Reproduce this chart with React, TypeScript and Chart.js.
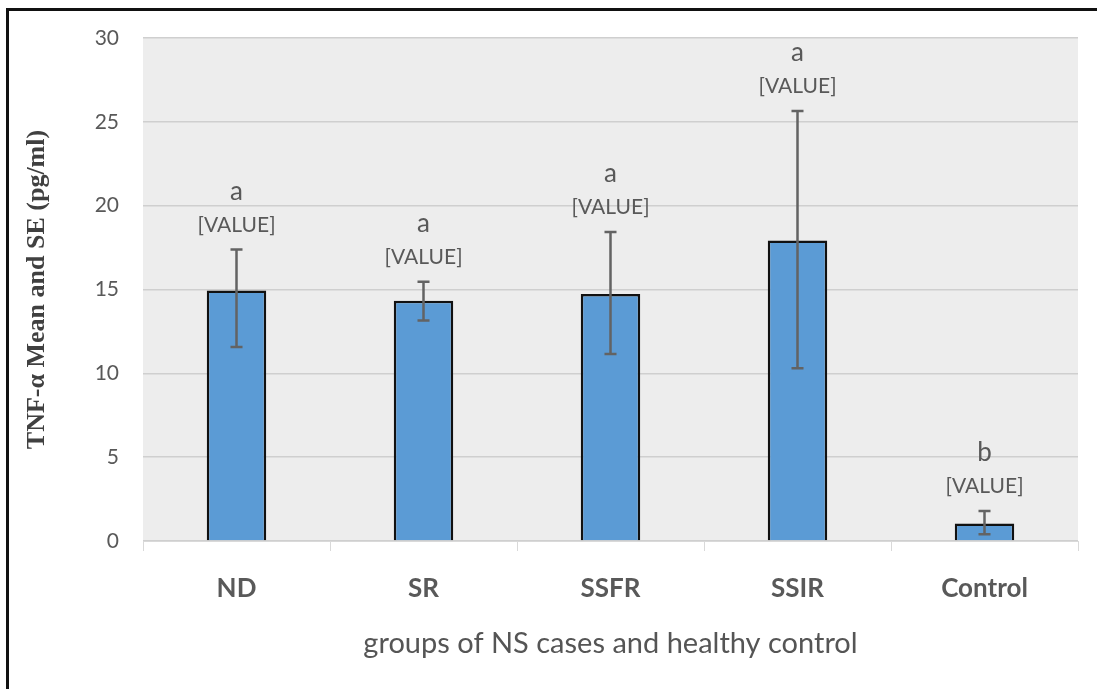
import React, { useEffect, useRef } from "react";
import { Chart, registerables } from "chart.js";

Chart.register(...registerables);

const categories = ["ND", "SR", "SSFR", "SSIR", "Control"];
const means = [14.94, 14.33, 14.73, 17.92, 1.05];
const errHigh = [17.38, 15.46, 18.43, 25.64, 1.79];
const errLow = [11.57, 13.15, 11.15, 10.3, 0.4];
const letters = ["a", "a", "a", "a", "b"];
const valueLabel = "[VALUE]";
const yTicks = [0, 5, 10, 15, 20, 25, 30];

const W = 1097;
const H = 689;
const SANS = "Lato, 'Open Sans', sans-serif";

const framePlugin = {
  id: "framePlugin",
  beforeDraw(chart: any) {
    const { ctx, chartArea } = chart;
    ctx.save();
    ctx.fillStyle = "#ffffff";
    ctx.fillRect(0, 0, chart.width, chart.height);
    ctx.fillStyle = "#ededed";
    ctx.fillRect(chartArea.left, chartArea.top, chartArea.right - chartArea.left, chartArea.bottom - chartArea.top);
    ctx.restore();
  },
  afterDraw(chart: any) {
    const { ctx } = chart;
    ctx.save();
    ctx.fillStyle = "#111111";
    ctx.fillRect(6, 8, chart.width - 6, 3);
    ctx.fillRect(6, 8, 3, chart.height - 8);
    ctx.restore();
  },
};

const errorPlugin = {
  id: "errorPlugin",
  afterDatasetsDraw(chart: any) {
    const { ctx } = chart;
    const x = chart.scales.x;
    const y = chart.scales.y;
    ctx.save();
    ctx.strokeStyle = "#636363";
    ctx.lineWidth = 2.5;
    categories.forEach((_, i) => {
      const cx = x.getPixelForValue(i);
      const yt = y.getPixelForValue(errHigh[i]);
      const yb = y.getPixelForValue(errLow[i]);
      ctx.beginPath();
      ctx.moveTo(cx, yt);
      ctx.lineTo(cx, yb);
      ctx.moveTo(cx - 6, yt);
      ctx.lineTo(cx + 6, yt);
      ctx.moveTo(cx - 6, yb);
      ctx.lineTo(cx + 6, yb);
      ctx.stroke();
    });
    ctx.fillStyle = "#595959";
    ctx.textAlign = "center";
    ctx.textBaseline = "alphabetic";
    categories.forEach((_, i) => {
      const cx = x.getPixelForValue(i);
      const yt = y.getPixelForValue(errHigh[i]);
      ctx.font = `21px ${SANS}`;
      ctx.fillText(valueLabel, cx, yt - 18);
      ctx.font = `26px ${SANS}`;
      ctx.fillText(letters[i], cx, yt - 50);
    });
    ctx.restore();
  },
};

export default function App() {
  const ref = useRef<HTMLCanvasElement | null>(null);
  useEffect(() => {
    document.body.style.margin = "0";
    const canvas = ref.current;
    if (!canvas) return;
    const chart = new Chart(canvas, {
      type: "bar",
      data: {
        labels: categories,
        datasets: [
          {
            data: means,
            backgroundColor: "#5b9bd5",
            borderColor: "#111111",
            borderWidth: 2.5,
            borderSkipped: "start",
            barPercentage: 0.318,
            categoryPercentage: 1,
          },
        ],
      },
      options: {
        responsive: false,
        animation: false,
        devicePixelRatio: 1,
        layout: { padding: { top: 38, right: 19, left: 0, bottom: 0 } },
        plugins: {
          legend: { display: false },
          tooltip: { enabled: false },
        },
        scales: {
          x: {
            afterFit: (s: any) => {
              s.height = 148;
            },
            grid: {
              drawOnChartArea: false,
              drawTicks: true,
              tickLength: 10,
              color: "#d9d9d9",
              offset: true,
            },
            border: { display: true, color: "#d9d9d9" },
            ticks: {
              color: "#595959",
              font: { family: SANS, size: 26, weight: "bold" },
              padding: 22,
            },
            title: {
              display: true,
              text: "groups of NS cases and healthy control",
              color: "#555555",
              font: { family: SANS, size: 29 },
              padding: { top: 0, bottom: 28 },
            },
          },
          y: {
            min: 0,
            max: 30,
            afterFit: (s: any) => {
              s.width = 143;
            },
            afterBuildTicks: (s: any) => {
              s.ticks = yTicks.map((v) => ({ value: v }));
            },
            grid: {
              color: "#cfcfcf",
              lineWidth: 1.5,
              drawTicks: false,
            },
            border: { display: false },
            ticks: {
              color: "#595959",
              font: { family: SANS, size: 21 },
              padding: 24,
            },
            title: {
              display: true,
              text: "TNF-\u03b1 Mean and SE (pg/ml)",
              color: "#404040",
              font: { family: "'Liberation Serif', 'DejaVu Serif', serif", size: 26, weight: "bold" },
              padding: { top: 22, bottom: 0 },
            },
          },
        },
      },
      plugins: [framePlugin, errorPlugin],
    });
    return () => chart.destroy();
  }, []);
  return (
    <div style={{ position: "absolute", left: 0, top: 0, width: W, height: H }}>
      <canvas ref={ref} width={W} height={H} style={{ width: W, height: H, display: "block" }} />
    </div>
  );
}
